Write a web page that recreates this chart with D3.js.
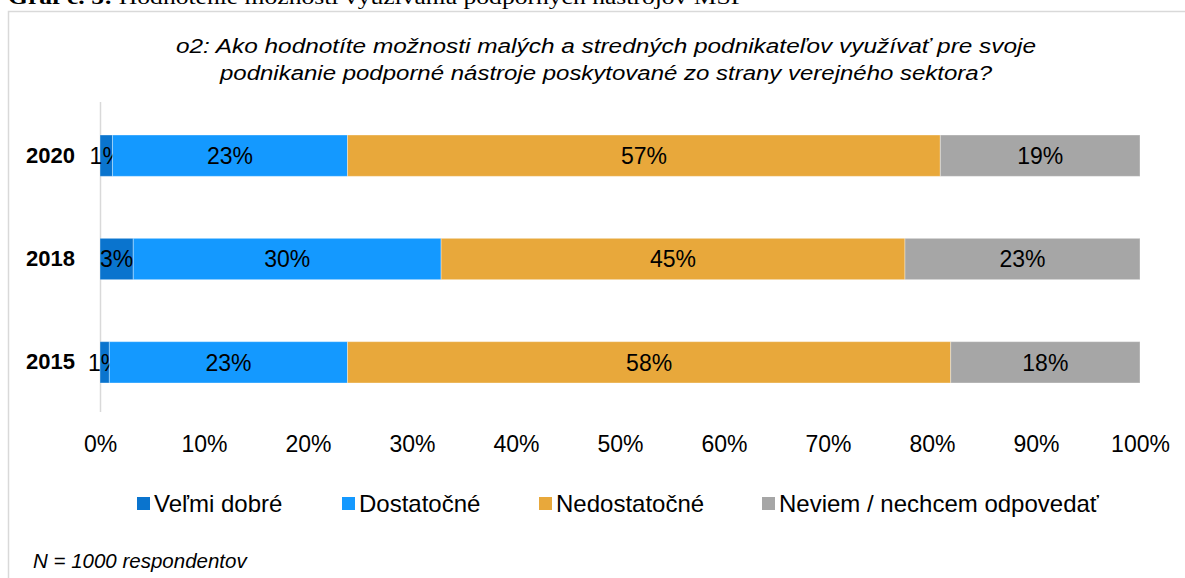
<!DOCTYPE html>
<html>
<head>
<meta charset="utf-8">
<script src="https://cdn.jsdelivr.net/npm/d3@7"></script>
<style>
  html, body { margin: 0; padding: 0; background: #fff; }
  svg { display: block; }
</style>
</head>
<body>
<div id="chart"></div>
<script>
// Data (percent shares, bars drawn top to bottom)
var years = ['2020', '2018', '2015'];
var seriesNames = ['Veľmi dobré', 'Dostatočné', 'Nedostatočné', 'Neviem / nechcem odpovedať'];
var seriesColors = ['#0A74CE', '#1499FF', '#E8A83B', '#A6A6A6'];
var velmiDobre = [1.2, 3.2, 0.9];
var dostatocne = [22.6, 29.6, 22.9];
var nedostatocne = [57.0, 44.6, 58.0];
var neviem = [19.2, 22.6, 18.2];
var xTicks = [0, 10, 20, 30, 40, 50, 60, 70, 80, 90, 100];
var titleLines = [
  'o2: Ako hodnotíte možnosti malých a stredných podnikateľov využívať pre svoje',
  'podnikanie podporné nástroje poskytované zo strany verejného sektora?'
];

var width = 1185, height = 578;
var sans = '"Liberation Sans", Arial, sans-serif';
var svg = d3.select('#chart').append('svg').attr('width', width).attr('height', height);

// heading of the page, cut off at the top edge
svg.append('text')
  .attr('x', 8).attr('y', 4)
  .attr('font-family', '"Liberation Serif", "Times New Roman", serif')
  .attr('font-size', 22)
  .attr('fill', '#000')
  .attr('textLength', 737).attr('lengthAdjust', 'spacingAndGlyphs')
  .html('<tspan font-weight="bold">Graf č. 5:</tspan> Hodnotenie možností využívania podporných nástrojov MSP');

// chart frame
svg.append('rect')
  .attr('x', 8.5).attr('y', 11.5).attr('width', 1200).attr('height', 600)
  .attr('fill', 'none').attr('stroke', '#D9D9D9').attr('stroke-width', 1.5);

// title (two lines, stretched to the widths seen in the picture)
var titleWidths = [860, 772];
titleLines.forEach(function(line, i) {
  svg.append('text')
    .attr('x', 606).attr('y', 53 + i * 27)
    .attr('text-anchor', 'middle')
    .attr('font-family', sans)
    .attr('font-style', 'italic')
    .attr('font-size', 20)
    .attr('fill', '#000')
    .attr('textLength', titleWidths[i]).attr('lengthAdjust', 'spacingAndGlyphs')
    .text(line);
});

var x = d3.scaleLinear().domain([0, 100]).range([100, 1140]);
var y = d3.scaleBand().domain(years).range([104, 414]).paddingInner(0.6).paddingOuter(0.3);

// build stacked rows
var rows = years.map(function(yr, i) {
  return { year: yr, vals: [velmiDobre[i], dostatocne[i], nedostatocne[i], neviem[i]] };
});
var stack = d3.stack().keys([0, 1, 2, 3]).value(function(d, k) { return d.vals[k]; });
var layers = stack(rows);

// vertical axis line
svg.append('line')
  .attr('x1', x(0) + 0.5).attr('x2', x(0) + 0.5)
  .attr('y1', 102).attr('y2', 412)
  .attr('stroke', '#D9D9D9').attr('stroke-width', 1.5);

var g = svg.append('g');
layers.forEach(function(layer, k) {
  g.selectAll('rect.s' + k)
    .data(layer).join('rect')
    .attr('class', 's' + k)
    .attr('x', function(d) { return x(d[0]); })
    .attr('width', function(d) { return x(d[1]) - x(d[0]); })
    .attr('y', function(d) { return y(d.data.year); })
    .attr('height', y.bandwidth())
    .attr('fill', seriesColors[k])
    .attr('stroke', '#fff').attr('stroke-opacity', 0.35).attr('stroke-width', 1);

  g.selectAll('text.l' + k)
    .data(layer).join('text')
    .attr('class', 'l' + k)
    .attr('x', function(d) { return (x(d[0]) + x(d[1])) / 2; })
    .attr('y', function(d) { return y(d.data.year) + y.bandwidth() / 2; })
    .attr('dy', '0.36em')
    .attr('text-anchor', 'middle')
    .attr('font-family', sans)
    .attr('font-size', 23)
    .attr('fill', '#000')
    .text(function(d) { return Math.round(d[1] - d[0]) + '%'; });
});

// year labels
var yAxis = svg.append('g').attr('transform', 'translate(' + (x(0) - 25) + ',0)')
  .call(d3.axisLeft(y).tickSize(0).tickPadding(0));
yAxis.select('.domain').remove();
yAxis.selectAll('text')
  .attr('font-family', sans)
  .attr('font-size', 22).attr('font-weight', 'bold').attr('fill', '#000');

// x axis tick labels
var xAxis = svg.append('g').attr('transform', 'translate(0,436)')
  .call(d3.axisBottom(x).tickValues(xTicks).tickSize(0).tickPadding(0)
    .tickFormat(function(d) { return d + '%'; }));
xAxis.select('.domain').remove();
xAxis.selectAll('text')
  .attr('font-family', sans)
  .attr('font-size', 23).attr('fill', '#000');

// legend
var legendX = [137, 342, 539, 762];
var legend = svg.append('g');
seriesNames.forEach(function(name, k) {
  legend.append('rect')
    .attr('x', legendX[k]).attr('y', 497).attr('width', 13).attr('height', 13)
    .attr('fill', seriesColors[k]);
  legend.append('text')
    .attr('x', legendX[k] + 17).attr('y', 512)
    .attr('font-family', sans)
    .attr('font-size', 24).attr('fill', '#000')
    .text(name);
});

// footnote
svg.append('text')
  .attr('x', 33).attr('y', 568)
  .attr('font-family', sans)
  .attr('font-style', 'italic').attr('font-size', 20.5).attr('fill', '#000')
  .text('N = 1000 respondentov');
</script>
</body>
</html>
